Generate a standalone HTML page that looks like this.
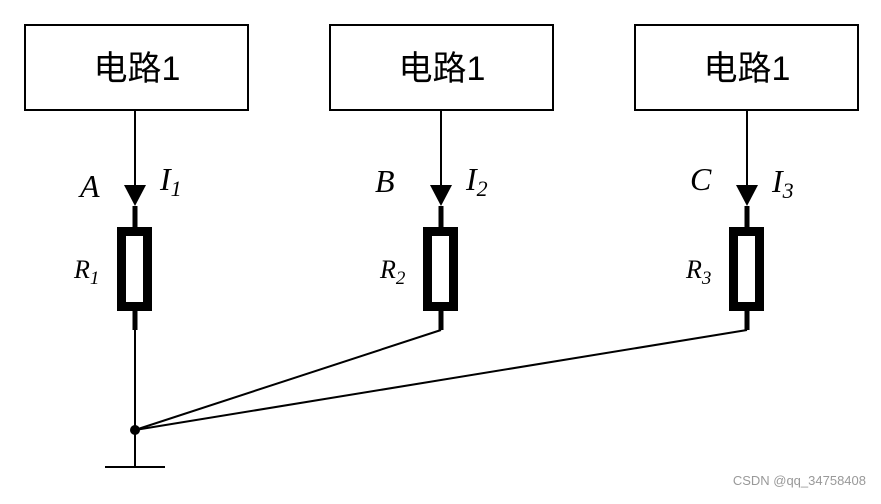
<!DOCTYPE html>
<html><head><style>body{margin:0;background:#fff}</style></head><body>
<svg width="881" height="499" viewBox="0 0 881 499" xmlns="http://www.w3.org/2000/svg">
<g fill="none" stroke="#000" stroke-width="2">
<rect x="25" y="25" width="223" height="85"/>
<rect x="330" y="25" width="223" height="85"/>
<rect x="635" y="25" width="223" height="85"/>
<line x1="135" y1="110" x2="135" y2="190"/>
<line x1="441" y1="110" x2="441" y2="190"/>
<line x1="747" y1="110" x2="747" y2="190"/>
<line x1="135" y1="330" x2="135" y2="467"/>
<line x1="441" y1="330" x2="135" y2="430"/>
<line x1="747" y1="330" x2="135" y2="430"/>
<line x1="105" y1="467" x2="165" y2="467"/>
</g>
<g stroke="#000" stroke-width="5">
<line x1="135" y1="206" x2="135" y2="227"/><line x1="135" y1="311" x2="135" y2="330"/>
<line x1="441" y1="206" x2="441" y2="227"/><line x1="441" y1="311" x2="441" y2="330"/>
<line x1="747" y1="206" x2="747" y2="227"/><line x1="747" y1="311" x2="747" y2="330"/>
</g>
<g fill="none" stroke="#000" stroke-width="9">
<rect x="121.5" y="231.5" width="26" height="75"/>
<rect x="427.5" y="231.5" width="26" height="75"/>
<rect x="733.5" y="231.5" width="26" height="75"/>
</g>
<g fill="#000">
<polygon points="124,185 146,185 135,206"/>
<polygon points="430,185 452,185 441,206"/>
<polygon points="736,185 758,185 747,206"/>
<circle cx="135" cy="430" r="5"/>
</g>
<g font-family="Liberation Sans, Noto Sans CJK SC, sans-serif" font-size="34" text-anchor="middle">
<text x="137" y="80">电路1</text><text x="442" y="80">电路1</text><text x="747" y="80">电路1</text>
</g>
<g font-family="Liberation Serif, serif" font-style="italic" font-size="32">
<text x="80" y="197">A</text><text x="375" y="192">B</text><text x="690" y="190">C</text>
<text x="160" y="190">I<tspan font-size="22" dy="6">1</tspan></text>
<text x="466" y="190">I<tspan font-size="22" dy="6">2</tspan></text>
<text x="772" y="192">I<tspan font-size="22" dy="6">3</tspan></text>
<g font-size="26">
<text x="74" y="278">R<tspan font-size="19" dy="6">1</tspan></text>
<text x="380" y="278">R<tspan font-size="19" dy="6">2</tspan></text>
<text x="686" y="278">R<tspan font-size="19" dy="6">3</tspan></text>
</g></g>
<text x="866" y="485" font-family="Liberation Sans, sans-serif" font-size="13" fill="#999" text-anchor="end">CSDN @qq_34758408</text>
</svg>
</body></html>
